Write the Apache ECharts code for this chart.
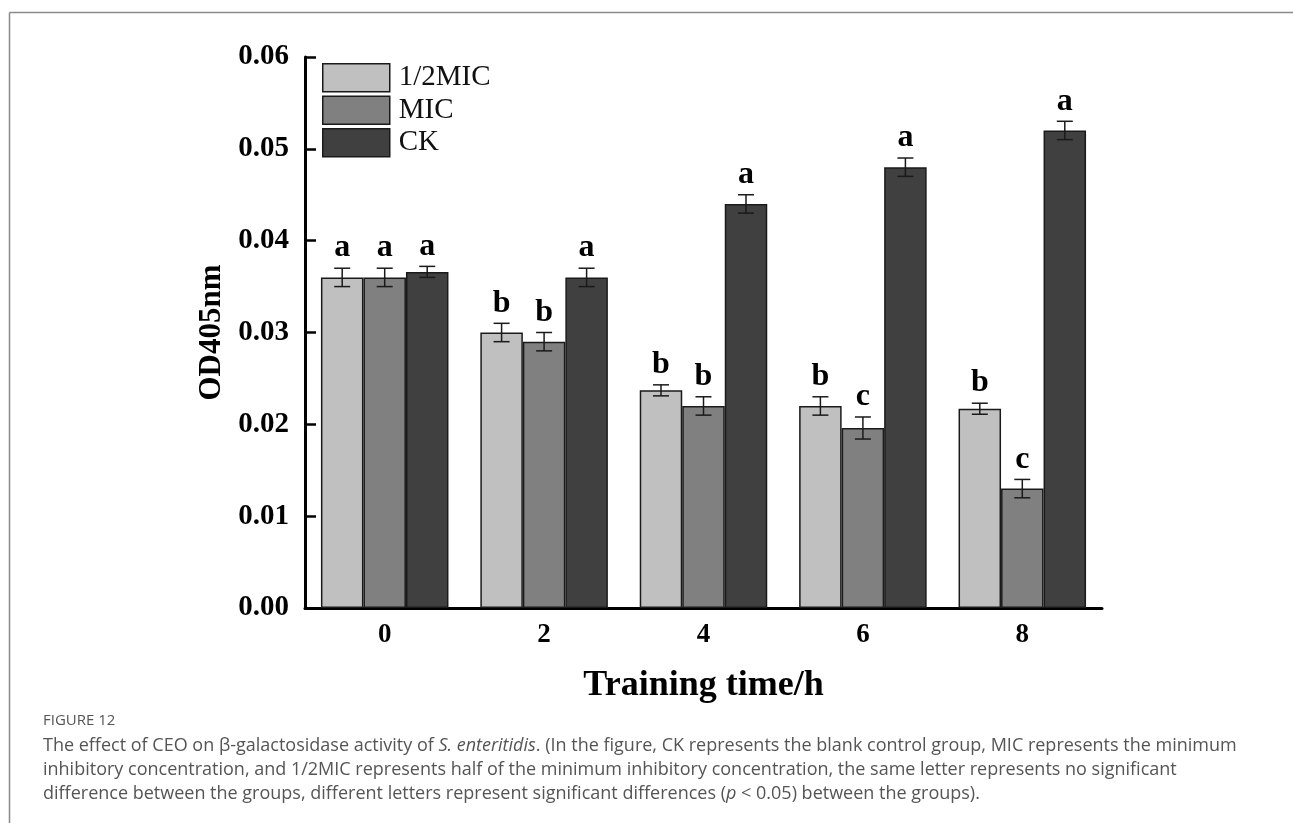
<!DOCTYPE html>
<html>
<head>
<meta charset="utf-8">
<script src="https://cdn.jsdelivr.net/npm/echarts@6/dist/echarts.min.js"></script>
<style>
html,body{margin:0;padding:0;background:#fff;}
#c{width:1293px;height:823px;}
</style>
</head>
<body>
<div id="c"></div>
<script>
const categories = ['0', '2', '4', '6', '8'];
const seriesNames = ['1/2MIC', 'MIC', 'CK'];
const halfMIC = [0.036, 0.030, 0.0237, 0.022, 0.0217];
const MIC = [0.036, 0.029, 0.022, 0.0196, 0.013];
const CK = [0.0366, 0.036, 0.044, 0.048, 0.052];
const halfMICErr = [0.001, 0.001, 0.0006, 0.001, 0.0006];
const MICErr = [0.001, 0.001, 0.001, 0.0012, 0.001];
const CKErr = [0.0006, 0.001, 0.001, 0.001, 0.001];
const halfMICLetters = ['a', 'b', 'b', 'b', 'b'];
const MICLetters = ['a', 'b', 'b', 'c', 'c'];
const CKLetters = ['a', 'a', 'a', 'a', 'a'];
const yMin = 0, yMax = 0.06, yStep = 0.01;

const serif = "'Liberation Serif','Times New Roman',serif";
const sans = '"Open Sans", sans-serif';
const colors = ['#c0c0c0', '#808080', '#404040'];
const values = [halfMIC, MIC, CK];
const errs = [halfMICErr, MICErr, CKErr];
const letters = [halfMICLetters, MICLetters, CKLetters];

const chart = echarts.init(document.getElementById('c'), null, {renderer: 'canvas'});

const series = [];
seriesNames.forEach((name, k) => {
  series.push({
    name: name,
    type: 'bar',
    data: values[k],
    barGap: '0%',
    barCategoryGap: '20%',
    itemStyle: {color: colors[k], borderColor: '#1a1a1a', borderWidth: 1.5},
    emphasis: {disabled: true},
    z: 2
  });
});
seriesNames.forEach((name, k) => {
  series.push({
    type: 'custom',
    name: name + '-err',
    data: values[k].map((v, i) => [i, v, errs[k][i]]),
    encode: {x: 0, y: 1},
    z: 5,
    silent: true,
    renderItem: function (params, api) {
      const idx = api.value(0);
      const v = api.value(1);
      const e = api.value(2);
      const band = api.size([1, 0])[0];
      const bw = band * 0.8 / 3;
      const cx = api.coord([idx, 0])[0] + (k - 1) * bw;
      const top = api.coord([idx, v + e])[1];
      const bot = api.coord([idx, v - e])[1];
      const cap = 8;
      const st = {stroke: '#1a1a1a', lineWidth: 1.5};
      return {
        type: 'group',
        children: [
          {type: 'line', shape: {x1: cx, y1: top, x2: cx, y2: bot}, style: st},
          {type: 'line', shape: {x1: cx - cap, y1: top, x2: cx + cap, y2: top}, style: st},
          {type: 'line', shape: {x1: cx - cap, y1: bot, x2: cx + cap, y2: bot}, style: st},
          {type: 'text', x: cx, y: top - 4, style: {
            text: letters[k][idx], fill: '#000', font: 'bold 32px ' + serif,
            align: 'center', verticalAlign: 'bottom'}}
        ]
      };
    }
  });
});

const capLine = (txt, y) => ({
  type: 'text', left: 43, top: y, silent: true,
  style: {
    text: txt, font: '18px ' + sans, fill: '#555',
    rich: {i: {fontStyle: 'italic', fontSize: 18, fontFamily: sans, fill: '#555'}}
  }
});

const option = {
  animation: false,
  backgroundColor: '#fff',
  grid: {left: 305, right: 191, top: 57, bottom: 215, containLabel: false},
  legend: {
    orient: 'vertical', left: 322, top: 63, padding: 0,
    itemWidth: 67, itemHeight: 28, itemGap: 3,
    icon: 'rect',
    data: seriesNames.map((n, k) => ({name: n, itemStyle: {color: colors[k], borderColor: '#1a1a1a', borderWidth: 1.5}})),
    textStyle: {fontFamily: serif, fontSize: 29, color: '#111', padding: [0, 0, 0, 4]},
    selectedMode: false
  },
  xAxis: {
    type: 'category',
    data: categories,
    name: 'Training time/h',
    nameLocation: 'middle',
    nameGap: 60,
    nameTextStyle: {fontFamily: serif, fontSize: 36, fontWeight: 'bold', color: '#000'},
    axisLine: {lineStyle: {color: '#000', width: 3}},
    axisTick: {show: false},
    axisLabel: {fontFamily: serif, fontSize: 27, fontWeight: 'bold', color: '#000', margin: 14},
    splitLine: {show: false}
  },
  yAxis: {
    type: 'value',
    min: yMin, max: yMax, interval: yStep,
    name: 'OD405nm',
    nameLocation: 'middle',
    nameGap: 74,
    nameRotate: 90,
    nameTextStyle: {fontFamily: serif, fontSize: 31, fontWeight: 'bold', color: '#000'},
    axisLine: {show: true, lineStyle: {color: '#000', width: 3}},
    axisTick: {show: true, inside: true, length: 11, lineStyle: {color: '#000', width: 2.5}},
    axisLabel: {fontFamily: serif, fontSize: 29, fontWeight: 'bold', color: '#000', margin: 16,
      formatter: v => v.toFixed(2)},
    splitLine: {show: false}
  },
  graphic: [
    {type: 'line', shape: {x1: 9.5, y1: 12.5, x2: 1293, y2: 12.5}, style: {stroke: '#8a8a8a', lineWidth: 1.5}, silent: true},
    {type: 'line', shape: {x1: 9.5, y1: 12.5, x2: 9.5, y2: 823}, style: {stroke: '#8a8a8a', lineWidth: 1.5}, silent: true},
    {type: 'text', left: 43, top: 713, silent: true, style: {text: 'FIGURE 12', font: '15px ' + sans, fill: '#555'}},
    capLine('The effect of CEO on β-galactosidase activity of {i|S. enteritidis}. (In the figure, CK represents the blank control group, MIC represents the minimum', 737),
    capLine('inhibitory concentration, and 1/2MIC represents half of the minimum inhibitory concentration, the same letter represents no significant', 761),
    capLine('difference between the groups, different letters represent significant differences ({i|p} < 0.05) between the groups).', 785)
  ],
  series: series
};
chart.setOption(option);
</script>
</body>
</html>
